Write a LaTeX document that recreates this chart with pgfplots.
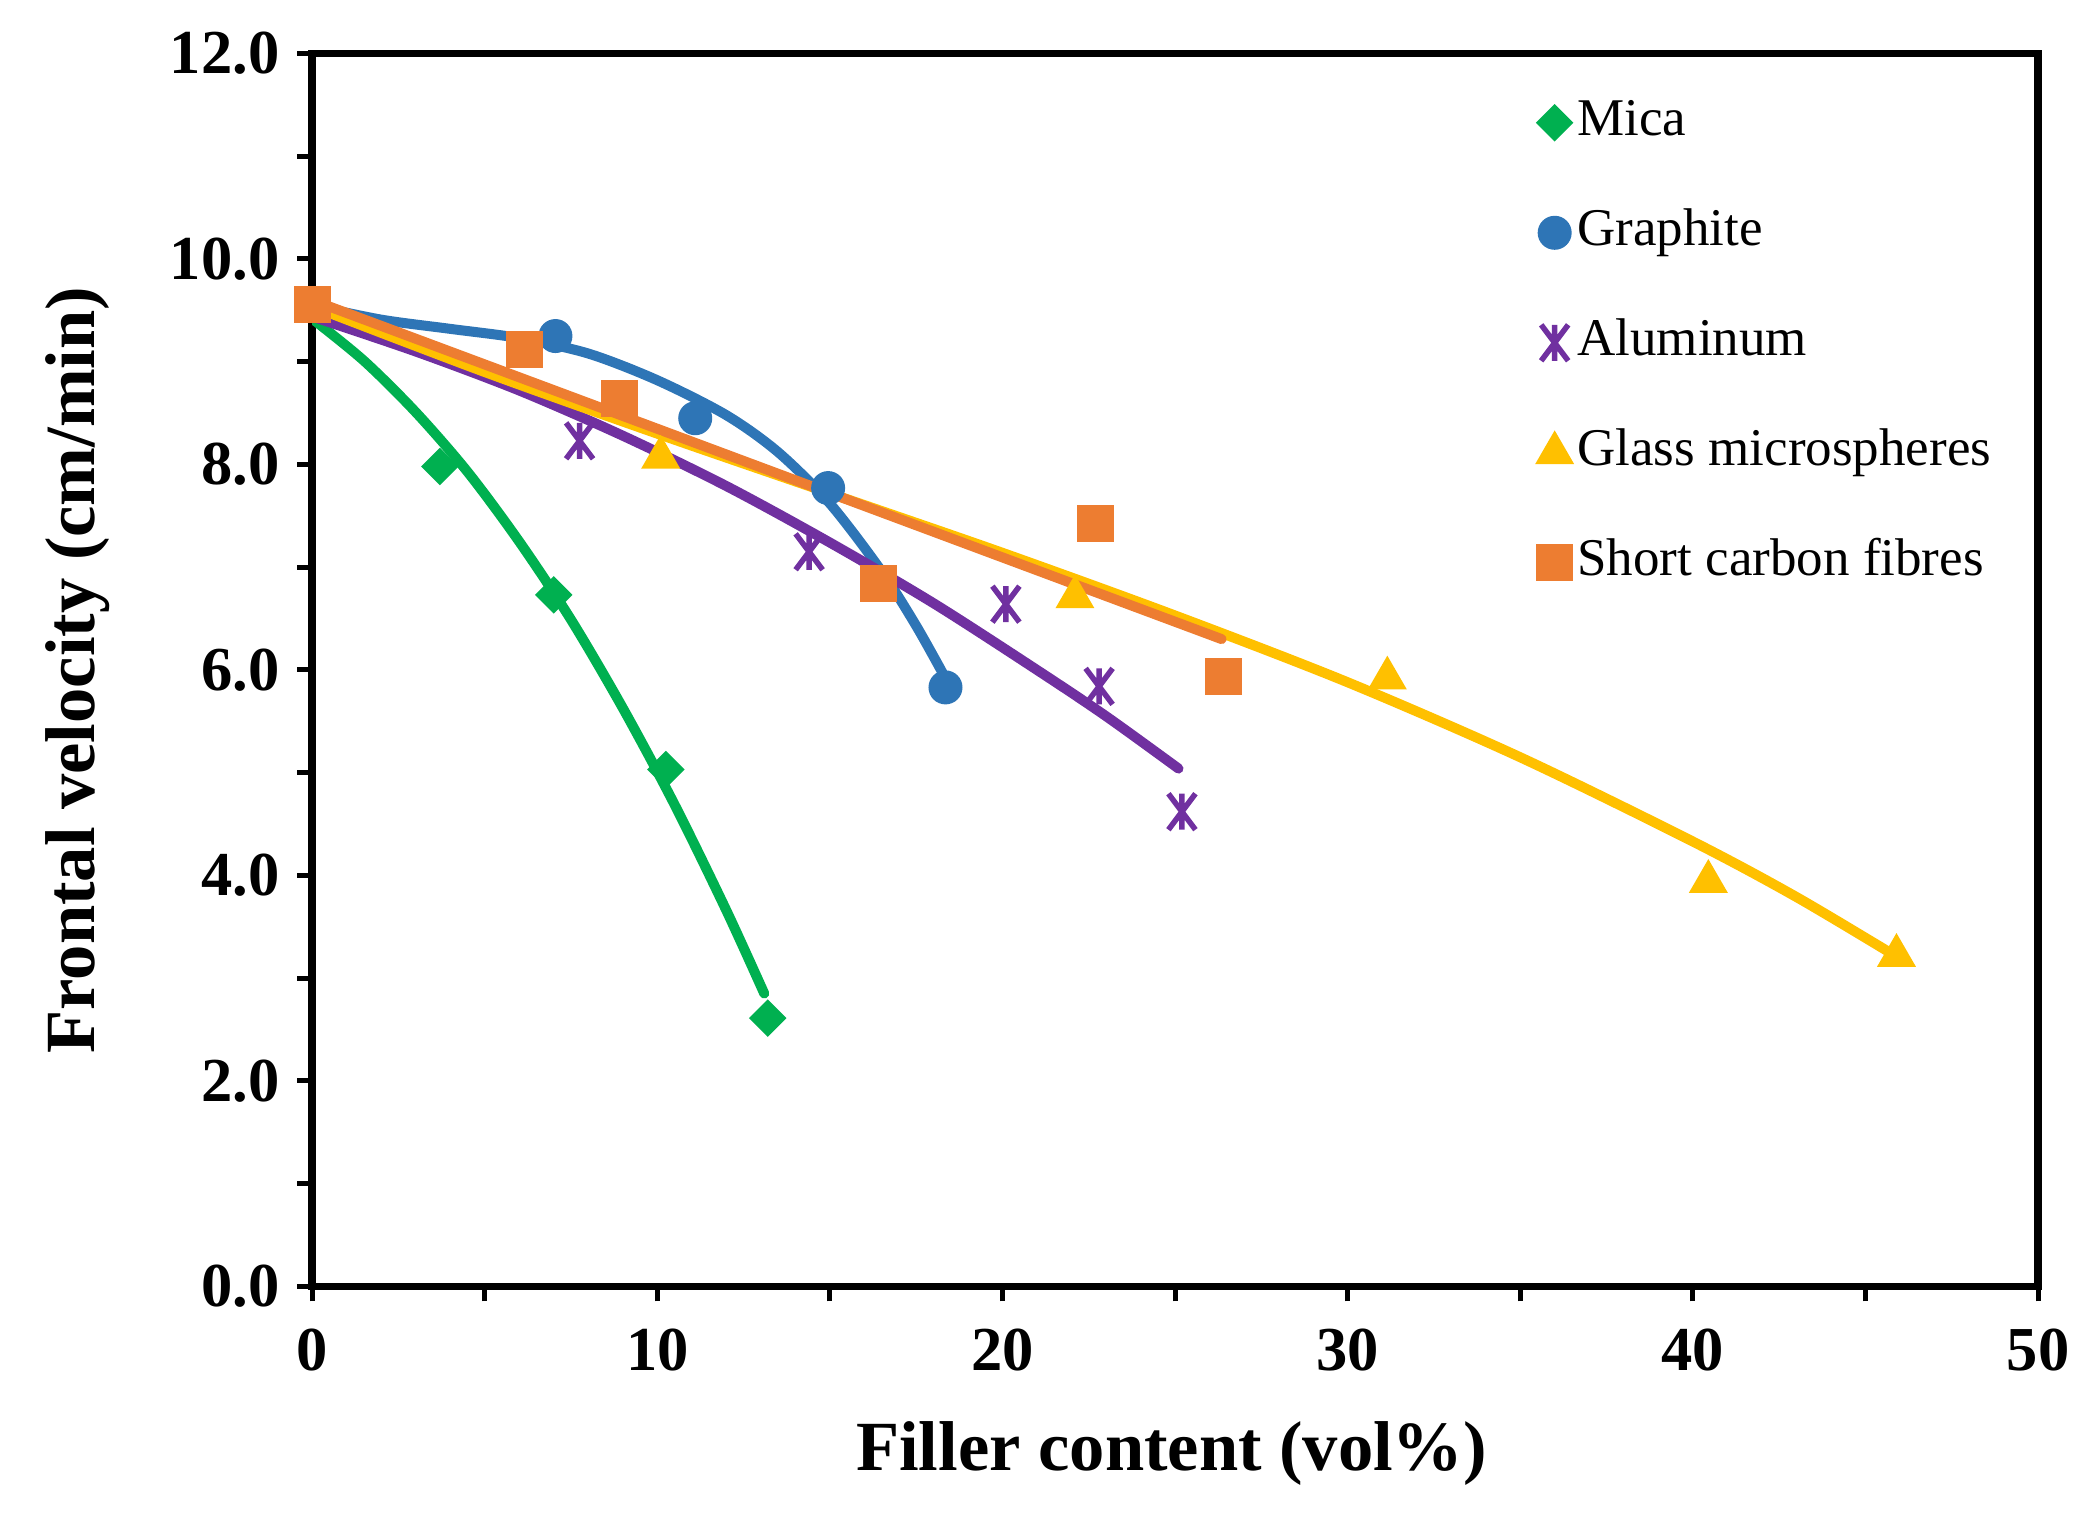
\documentclass[border=0pt]{standalone}
\usepackage{fontspec}
\setmainfont{Liberation Serif}
\usepackage{pgfplots}
\pgfplotsset{compat=1.18}
\usetikzlibrary{calc}

\definecolor{micagreen}{HTML}{00B050}
\definecolor{graphblue}{HTML}{2E75B6}
\definecolor{alpurple}{HTML}{7030A0}
\definecolor{glassyellow}{HTML}{FFC000}
\definecolor{scforange}{HTML}{ED7D31}

% vertical bar plus a steep cross, like the spreadsheet asterisk
\pgfdeclareplotmark{vx}{%
  \pgfpathmoveto{\pgfqpoint{0pt}{\pgfplotmarksize}}%
  \pgfpathlineto{\pgfqpoint{0pt}{-\pgfplotmarksize}}%
  \pgfpathmoveto{\pgfqpoint{-0.75\pgfplotmarksize}{\pgfplotmarksize}}%
  \pgfpathlineto{\pgfqpoint{0.75\pgfplotmarksize}{-\pgfplotmarksize}}%
  \pgfpathmoveto{\pgfqpoint{0.75\pgfplotmarksize}{\pgfplotmarksize}}%
  \pgfpathlineto{\pgfqpoint{-0.75\pgfplotmarksize}{-\pgfplotmarksize}}%
  \pgfusepathqstroke}

\begin{document}
\begin{tikzpicture}
\begin{axis}[
    name=ax,
    width=345.1pt, height=246.5pt, scale only axis,
    xmin=0, xmax=50, ymin=0, ymax=12,
    xtick={0,10,20,30,40,50},
    ytick={0,2,4,6,8,10,12},
    minor x tick num=1, minor y tick num=1,
    tick align=outside, tick pos=left,
    major tick length=3pt, minor tick length=3pt,
    every tick/.style={black, line width=1pt},
    axis line style={line width=1.5pt},
    /pgf/number format/assume math mode=true,
    ticklabel style={font=\fontsize{12.5}{14}\selectfont\bfseries},
    xticklabel style={yshift=-2pt},
    yticklabel={\pgfmathprintnumber[fixed,fixed zerofill,precision=1]{\tick}},
    xlabel={Filler content (vol\%)},
    ylabel={Frontal velocity (cm/min)},
    every axis x label/.style={at={(axis description cs:0.498,-0.136)}, anchor=center,
        font=\fontsize{14.1}{16}\selectfont\bfseries},
    every axis y label/.style={at={(axis description cs:-0.136,0.5)}, rotate=90, anchor=center,
        font=\fontsize{14.1}{16}\selectfont\bfseries},
    legend style={draw=none, fill=none, font=\fontsize{10.6}{12}\selectfont,
        at={(axis description cs:0.7214,0.969)}, anchor=north west, xshift=-4.25pt,
        inner sep=0pt, row sep=10pt,
        nodes={text height=7.5pt, text depth=2.5pt, inner sep=1pt}},
    legend cell align=left,
    mk/.style={only marks,
        legend image code/.code={\draw[mark repeat=2,mark phase=2,##1] plot coordinates {(0cm,0cm) (0.15cm,0cm) (0.3cm,0cm)};}},
    tl/.style={no marks, smooth, line width=2pt, line cap=round, forget plot},
]

% data points
\addplot[mk, mark=square*, mark size=2.45pt, color=micagreen, mark options={rotate=45}] coordinates {
    (3.7,7.98) (7.0,6.73) (10.25,5.03) (13.2,2.61)
};
\addlegendentry{Mica}
\addplot[mk, mark=*, mark size=3.2pt, color=graphblue] coordinates {
    (7.05,9.25) (11.1,8.45) (14.95,7.77) (18.35,5.83)
};
\addlegendentry{Graphite}
\addplot[mk, mark=vx, mark size=3.6pt, color=alpurple, mark options={line width=1.1pt}] coordinates {
    (7.75,8.23) (14.4,7.15) (20.1,6.64) (22.8,5.84) (25.2,4.62)
};
\addlegendentry{Aluminum}
\addplot[mk, mark=triangle*, mark size=4.1pt, color=glassyellow] coordinates {
    (10.1,8.07) (22.1,6.71) (31.15,5.92) (40.45,3.94) (45.9,3.22)
};
\addlegendentry{Glass microspheres}
\addplot[mk, mark=square*, mark size=3.5pt, color=scforange] coordinates {
    (0,9.56) (6.15,9.12) (8.9,8.64) (16.4,6.84) (22.7,7.43) (26.4,5.94)
};
\addlegendentry{Short carbon fibres}

% trend lines
\addplot[tl, color=micagreen] coordinates {
    (0,9.42) (1.5,9.01) (3,8.51) (4.5,7.93) (6,7.25) (7.5,6.49) (9,5.63) (10.5,4.69) (12,3.66) (13.1,2.85)
};
\addplot[tl, color=graphblue] coordinates {
    (0,9.55) (2,9.41) (4,9.32) (6,9.23) (8,9.08) (10,8.82) (12,8.48) (13.5,8.12) (15,7.62) (16.5,6.96) (17.5,6.43) (18.3,5.95)
};
\addplot[tl, color=alpurple] coordinates {
    (0,9.44) (3,9.10) (6,8.72) (9,8.28) (12,7.79) (15,7.24) (18,6.65) (21,6.00) (23,5.55) (25.1,5.04)
};
\addplot[tl, color=glassyellow] coordinates {
    (0,9.54) (5,8.90) (10,8.30) (15,7.72) (20,7.14) (25,6.53) (30,5.88) (35,5.15) (40,4.33) (43,3.79) (46,3.19)
};
\addplot[tl, color=scforange] coordinates {
    (0,9.6) (26.35,6.3)
};
\end{axis}
\path ($(ax.south west)+(-62.4pt,-46pt)$) rectangle ($(ax.north east)+(10.4pt,10.7pt)$);
\end{tikzpicture}
\end{document}
